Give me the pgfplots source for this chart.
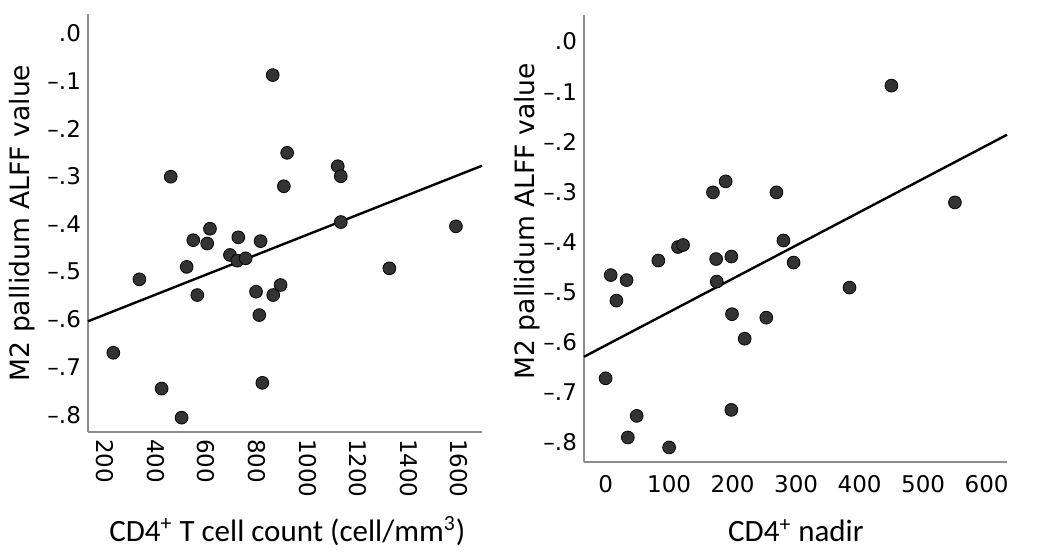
\documentclass[border=0pt]{standalone}
\usepackage{fontspec}
\setmainfont{DejaVu Sans}
\newfontfamily\calibri{Carlito}
\usepackage{pgfplots}
\pgfplotsset{compat=1.18}
\pgfplotstableread{
x y
863 -0.088
920 -0.251
460 -0.301
907 -0.321
1120 -0.279
1132 -0.300
1132 -0.396
1587 -0.405
615 -0.410
549 -0.434
604 -0.441
727 -0.428
815 -0.436
694 -0.465
723 -0.477
756 -0.472
523 -0.490
1324 -0.493
336 -0.516
565 -0.549
797 -0.542
865 -0.549
894 -0.528
810 -0.591
233 -0.670
424 -0.745
822 -0.733
503 -0.806
}\lefttable
\pgfplotstableread{
x y
450 -0.088
550 -0.321
169 -0.301
189 -0.279
269 -0.301
280 -0.397
114 -0.410
122 -0.406
83 -0.437
174 -0.434
198 -0.429
296 -0.441
8 -0.466
33 -0.476
175 -0.479
384 -0.491
17 -0.517
199 -0.544
253 -0.551
219 -0.593
0 -0.672
198 -0.735
49 -0.747
35 -0.790
100 -0.810
}\righttable
\begin{document}
\begin{tikzpicture}
\path[use as bounding box] (0pt,0pt) rectangle (525pt,278pt);
\pgfplotsset{common/.style={
  scale only axis,
  axis x line*=bottom, axis y line*=left,
  axis line style={draw=black!45, line width=0.8pt},
  major tick length=0pt,
  tick style={draw=none},
  ticklabel style={font=\fontsize{11.5}{13}\selectfont, text=black},
  ytick={-0.8,-0.7,-0.6,-0.5,-0.4,-0.3,-0.2,-0.1,0},
  yticklabels={–.8,–.7,–.6,–.5,–.4,–.3,–.2,–.1,.0},
  ylabel={M2 pallidum ALFF value},
  label style={font=\fontsize{13.3}{15}\selectfont},
  clip=false,
}}
\begin{axis}[common,
  at={(44pt,62pt)}, anchor=south west,
  width=197pt, height=209pt,
  xmin=133, xmax=1690, ymin=-0.836, ymax=0.04,
  xtick={200,400,600,800,1000,1200,1400,1600},
  xticklabels={200,400,600,800,1000,1200,1400,1600},
  xticklabel style={rotate=-90, anchor=west},
  xlabel={\calibri\fontsize{15.5}{17}\selectfont CD4\textsuperscript{+} T cell count (cell/mm\textsuperscript{3})},
  xlabel style={at={(axis description cs:0.506,-0.237)}, anchor=center},
  ylabel style={at={(axis description cs:-0.1675,0.5)}, anchor=center},
]
\addplot[black, line width=1.2pt] coordinates {(133,-0.604) (1690,-0.278)};
\addplot[only marks, mark=*, mark size=3.2pt, mark options={fill=black!80, draw=black, line width=0.4pt}] table[x=x,y=y] {\lefttable};
\end{axis}
\begin{axis}[common,
  at={(292pt,47pt)}, anchor=south west,
  width=211.5pt, height=223.5pt,
  xmin=-34, xmax=632, ymin=-0.839, ymax=0.053,
  xtick={0,100,200,300,400,500,600},
  xticklabels={0,100,200,300,400,500,600},
  xticklabel style={yshift=-3pt},
  xlabel={\calibri\fontsize{15.5}{17}\selectfont CD4\textsuperscript{+} nadir},
  xlabel style={at={(axis description cs:0.501,-0.154)}, anchor=center},
  ylabel style={at={(axis description cs:-0.135,0.539)}, anchor=center},
]
\addplot[black, line width=1.2pt] coordinates {(-34,-0.629) (632,-0.186)};
\addplot[only marks, mark=*, mark size=3.2pt, mark options={fill=black!80, draw=black, line width=0.4pt}] table[x=x,y=y] {\righttable};
\end{axis}
\end{tikzpicture}
\end{document}
